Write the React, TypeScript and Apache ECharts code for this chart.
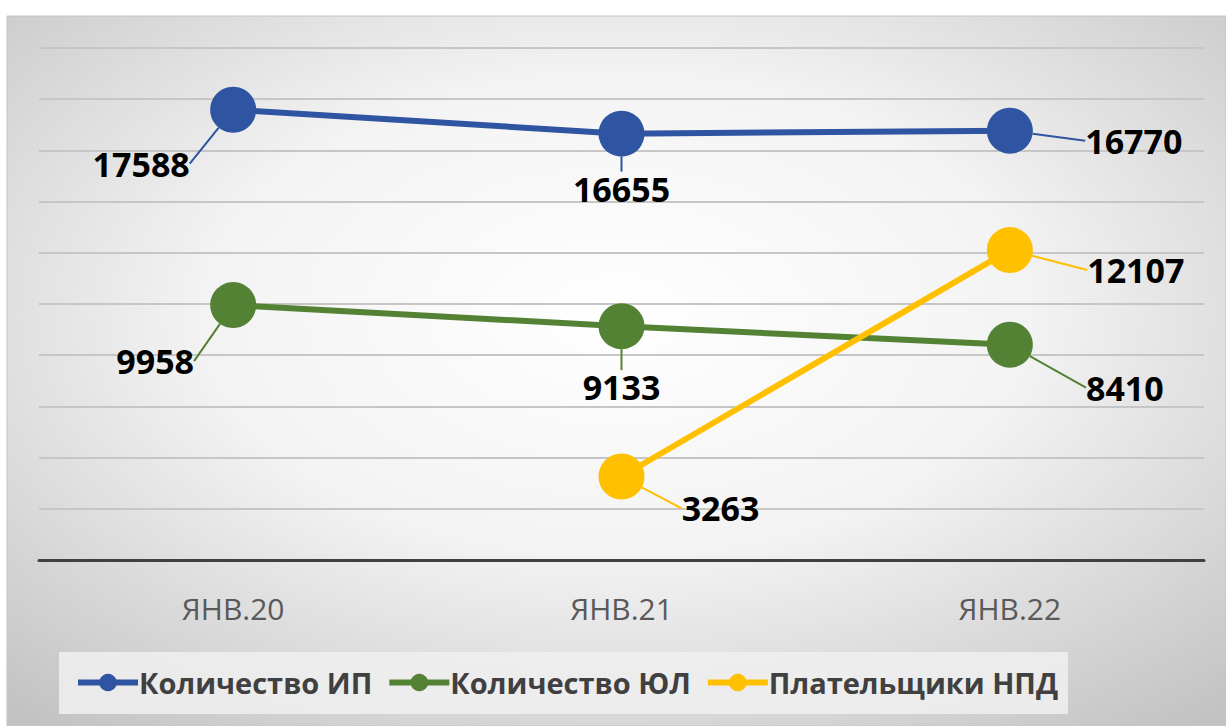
import React, { useEffect, useRef } from "react";
import * as echarts from "echarts";

const categories = ["ЯНВ.20", "ЯНВ.21", "ЯНВ.22"];
const seriesNames = ["Количество ИП", "Количество ЮЛ", "Плательщики НПД"];
const ipValues: (number | null)[] = [17588, 16655, 16770];
const ulValues: (number | null)[] = [9958, 9133, 8410];
const npdValues: (number | null)[] = [null, 3263, 12107];
const colors = ["#2F55A2", "#548235", "#FFC000"];

// label offsets (dx, dy) per point, relative to marker centre
const ipOffsets = [[-92, 54], [0, 55], [124, 10]];
const ulOffsets = [[-78, 56], [0, 61], [115, 43]];
const npdOffsets = [[0, 0], [99, 32], [126, 20]];

const FONT = "'Open Sans', 'Noto Sans', sans-serif";

function makeSeries(name: string, data: (number | null)[], color: string, offsets: number[][]) {
  return {
    name,
    type: "line",
    data,
    connectNulls: false,
    symbol: "circle",
    symbolSize: 46,
    itemStyle: { color },
    lineStyle: { color, width: 6 },
    label: {
      show: true,
      position: "inside",
      color: "#000",
      fontFamily: FONT,
      fontWeight: "bold",
      fontSize: 34,
    },
    labelLine: { show: true, lineStyle: { color, width: 2 }, smooth: false },
    labelLayout: (params: any) => {
      const o = offsets[params.dataIndex] || [0, 0];
      return { dx: o[0], dy: o[1] };
    },
  };
}

export default function App() {
  const ref = useRef<HTMLDivElement>(null);
  useEffect(() => {
    if (!ref.current) return;
    const chart = echarts.init(ref.current, undefined, { renderer: "svg" });
    chart.setOption({
      animation: false,
      color: colors,
      graphic: [
        {
          type: "rect",
          z: -10,
          shape: { x: 7, y: 16, width: 1219, height: 710 },
          style: {
            fill: new echarts.graphic.RadialGradient(0.5, 0.42, 0.75, [
              { offset: 0, color: "#ffffff" },
              { offset: 0.45, color: "#f3f3f3" },
              { offset: 1, color: "#c2c2c2" },
            ]),
            stroke: "#c4c4c4",
            lineWidth: 1,
          },
        },
      ],
      grid: { left: 39, right: 22, top: 48, bottom: 166 },
      xAxis: {
        type: "category",
        data: categories,
        boundaryGap: true,
        axisLine: { show: true, lineStyle: { color: "#404040", width: 3 } },
        axisTick: { show: false },
        axisLabel: {
          color: "#595959",
          fontFamily: FONT,
          fontSize: 30,
          margin: 33,
        },
      },
      yAxis: {
        type: "value",
        min: 0,
        max: 20000,
        interval: 2000,
        axisLabel: { show: false },
        axisLine: { show: false },
        axisTick: { show: false },
        splitLine: { lineStyle: { color: "#c6c6c6", width: 2 } },
      },
      legend: {
        left: 59,
        top: 652,
        padding: [16, 10, 17, 16],
        backgroundColor: "rgba(240,240,240,0.85)",
        itemWidth: 60,
        itemHeight: 22,
        itemGap: 14,
        lineStyle: { width: 6 },
        textStyle: {
          color: "#404040",
          fontFamily: FONT,
          fontWeight: "bold",
          fontSize: 29,
          padding: [0, 0, 0, -4],
        },
        data: seriesNames,
      },
      series: [
        makeSeries(seriesNames[0], ipValues, colors[0], ipOffsets),
        makeSeries(seriesNames[1], ulValues, colors[1], ulOffsets),
        makeSeries(seriesNames[2], npdValues, colors[2], npdOffsets),
      ],
    });
    return () => chart.dispose();
  }, []);
  return (
    <div
      ref={ref}
      style={{ position: "absolute", left: 0, top: 0, width: 1226, height: 726, background: "#fff" }}
    />
  );
}
